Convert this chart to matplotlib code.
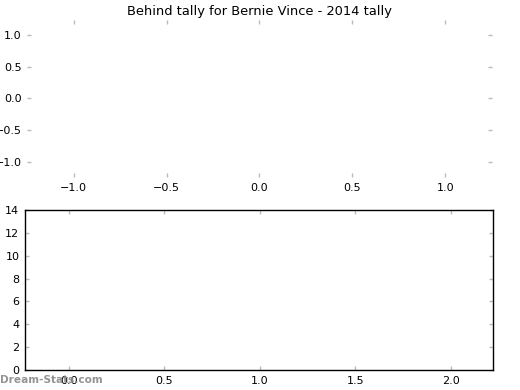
import matplotlib
matplotlib.use("Agg")
import matplotlib.pyplot as plt

title = "Behind tally for Bernie Vince - 2014 tally"
top_ticks = [-1.0, -0.5, 0.0, 0.5, 1.0]
bottom_xticks = [0.0, 0.5, 1.0, 1.5, 2.0]
bottom_yticks = [0, 2, 4, 6, 8, 10, 12, 14]
watermark = "Dream-Stats.com"

plt.rcParams['font.family'] = ['DejaVu Sans']
fig = plt.figure(figsize=(5.2, 3.9), dpi=100)

ax1 = fig.add_axes([0.052, 0.545, 0.894, 0.405])
ax1.set_xlim(-1.25, 1.25)
ax1.set_ylim(-1.25, 1.25)
ax1.set_xticks(top_ticks)
ax1.set_yticks(top_ticks)
for s in ax1.spines.values():
    s.set_visible(False)
ax1.tick_params(direction='in', length=3, width=1, color='#bbbbbb',
                top=True, right=True, labelsize=8, pad=4)
ax1.set_title(title, fontsize=9.4, pad=3)

ax2 = fig.add_axes([0.048, 0.051, 0.900, 0.411])
ax2.set_xlim(-0.23, 2.22)
ax2.set_ylim(0, 14)
ax2.set_xticks(bottom_xticks)
ax2.set_yticks(bottom_yticks)
for s in ax2.spines.values():
    s.set_linewidth(1)
    s.set_color('black')
ax2.tick_params(direction='in', length=3, width=1, color='#bbbbbb',
                top=True, right=True, labelsize=8, pad=4)

fig.text(0.0, 0.012, watermark, fontsize=7.6, color='#888888', fontweight='bold',
         ha='left', va='bottom', alpha=0.9)

fig.savefig("out.png", dpi=100)
